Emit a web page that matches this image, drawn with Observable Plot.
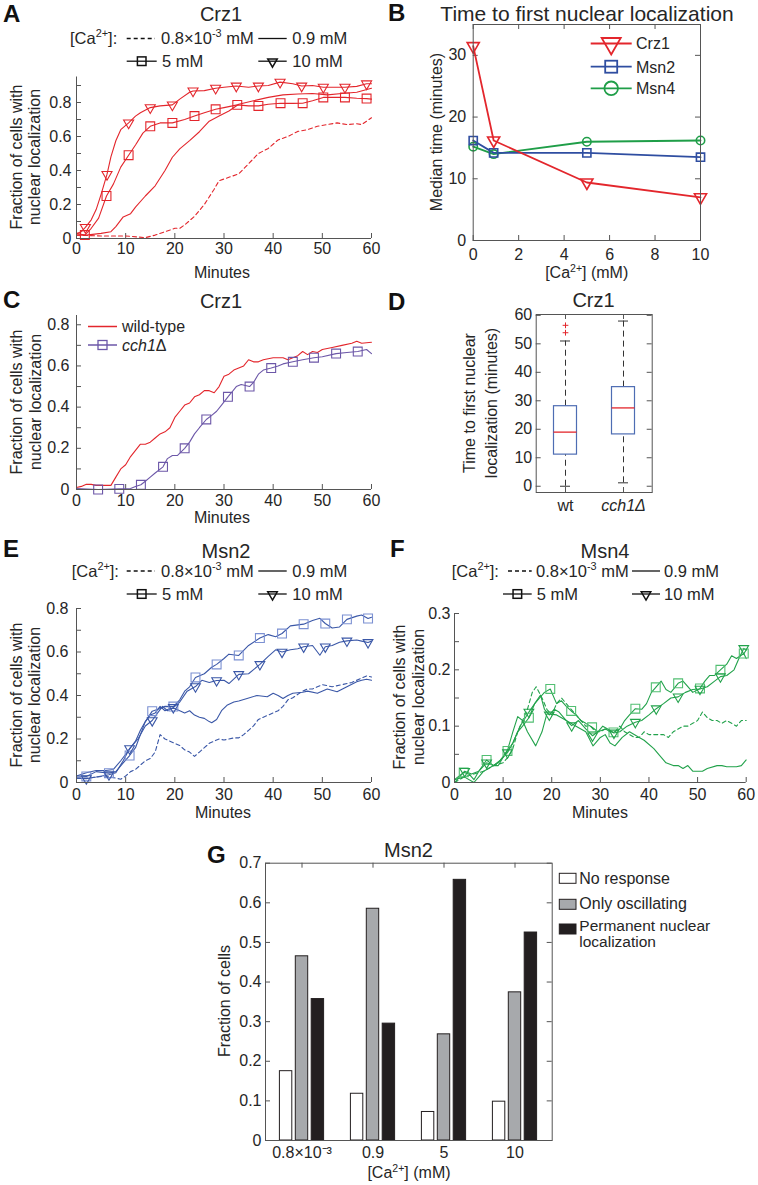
<!DOCTYPE html>
<html><head><meta charset="utf-8">
<script src="https://cdn.jsdelivr.net/npm/d3@7"></script>
<script src="https://cdn.jsdelivr.net/npm/@observablehq/plot@0.6"></script>
<style>
body{margin:0;background:#fff;}
#fig{position:relative;width:758px;height:1185px;overflow:hidden;background:#fff;font-family:"Liberation Sans",Arial,Helvetica,sans-serif;}
</style></head>
<body><div id="fig"></div>
<script>
// ---------------- DATA ----------------
// Panel A: Crz1, fraction with nuclear localization vs minutes
const tA_low = [0,5,10,14,16,18,20,21,22,24,26,28,29,31,33,35,37,39,41,43,45,47,49,51,53,55,57,58,60];
const vA_low = [0.02,0.015,0.015,0.005,0.02,0.04,0.06,0.06,0.08,0.13,0.2,0.29,0.34,0.36,0.38,0.44,0.5,0.53,0.58,0.6,0.63,0.64,0.66,0.67,0.68,0.67,0.675,0.67,0.71];
const tA_09 = [0,2,5,7,8,9.5,11,12,14,16,18,19.5,21,23,25,27,29,31,33,36,39,42,45,48,51,54,57,60];
const vA_09 = [0.02,0.02,0.03,0.04,0.07,0.127,0.146,0.185,0.25,0.31,0.4,0.478,0.527,0.576,0.628,0.69,0.72,0.75,0.79,0.81,0.83,0.845,0.85,0.853,0.845,0.853,0.86,0.884];
const tA_5 = [0,1.7,3,4.5,6.1,7.5,9,10.6,12,13.5,15,17,19.5,22,24,26,28.3,30,32.7,35,37,39,41.5,44,46,48,50.2,52,54.6,57,59,60];
const vA_5 = [0.03,0.02,0.06,0.12,0.25,0.32,0.42,0.49,0.55,0.62,0.66,0.68,0.68,0.7,0.72,0.74,0.76,0.77,0.786,0.78,0.78,0.79,0.796,0.795,0.796,0.81,0.83,0.83,0.83,0.825,0.823,0.82];
const tA_10 = [0,1,1.8,3,4,5,6.2,7,8,9,10.6,12,13,15,17,19.5,21,23,23.7,26,28.3,30,32.5,35,37,39,41.4,44,45.8,48,50.2,52,54.6,57,59,60];
const vA_10 = [0.03,0.04,0.065,0.11,0.17,0.26,0.377,0.48,0.575,0.64,0.68,0.72,0.74,0.77,0.78,0.786,0.82,0.86,0.868,0.87,0.884,0.89,0.897,0.89,0.897,0.9,0.92,0.91,0.897,0.9,0.89,0.89,0.89,0.895,0.91,0.91];
const mA_5t = [1.7,6.1,10.6,15,19.5,24,28.3,32.7,37,41.5,46,50.2,54.6,59];
const mA_5v = [0.02,0.25,0.49,0.66,0.68,0.72,0.76,0.786,0.78,0.796,0.796,0.83,0.83,0.823];
const mA_10t = [1.8,6.2,10.6,15,19.5,23.7,28.3,32.5,37,41.4,45.8,50.2,54.6,59];
const mA_10v = [0.065,0.377,0.68,0.77,0.786,0.868,0.884,0.897,0.897,0.92,0.897,0.89,0.89,0.91];

// Panel B: median time to first nuclear localization
const caB = [0.0008, 0.9, 5, 10];
const crz1B = [31.5, 16.2, 9.4, 7.0];
const msn2B = [16.2, 14.2, 14.2, 13.5];
const msn4B = [15.2, 14.0, 16.0, 16.2];

// Panel C: Crz1 wild-type vs cch1Δ
const tC_wt = [0,1,2,3,4,5,6,7,8,9,10,11,12,13,14,15,16,17,18,19,20,21,22,23,24,25,26,27,28,29,30,31,32,33,34,35,36,37,38,40,42,43,44,45,46,47,48,49,50,52,54,56,57,58,60];
const vC_wt = [0.01,0.015,0.025,0.025,0.02,0.02,0.02,0.02,0.06,0.1,0.12,0.16,0.19,0.22,0.22,0.23,0.25,0.27,0.28,0.3,0.35,0.38,0.41,0.42,0.45,0.46,0.48,0.48,0.47,0.5,0.55,0.56,0.58,0.59,0.6,0.63,0.62,0.62,0.63,0.64,0.64,0.63,0.64,0.65,0.67,0.655,0.67,0.665,0.68,0.69,0.7,0.71,0.72,0.71,0.715];
const tC_cch = [0,4.4,8.7,11,12,13.1,14,15,16,17.6,18.5,19.5,20.5,22,23,24,25,26.4,27.5,28.5,29.5,30.8,31.5,32.5,33.5,35.2,36,37,38,39.6,41,42,44,46,48.3,50,52.8,55,57.2,59,60];
const vC_cch = [0.005,0,0.003,0.005,0.015,0.023,0.04,0.06,0.08,0.11,0.15,0.165,0.165,0.2,0.23,0.27,0.3,0.34,0.36,0.38,0.41,0.45,0.47,0.5,0.51,0.5,0.52,0.56,0.58,0.59,0.6,0.61,0.62,0.63,0.64,0.645,0.66,0.665,0.67,0.68,0.66];
const mC_t = [4.4,8.7,13.1,17.6,22,26.4,30.8,35.2,39.6,44,48.3,52.8,57.2];
const mC_v = [0,0.003,0.023,0.11,0.2,0.34,0.45,0.5,0.59,0.62,0.64,0.66,0.67];

// Panel D: box plot statistics
const strainsD = ["wt", "cch1Δ"];
const q1D = [11.1, 18.2];
const medD = [19.0, 27.5];
const q3D = [28.1, 34.8];
const loD = [0, 1.2];
const hiD = [51.0, 58.0];
const outD = [53.9, 56.5];

// Panel E: Msn2
const tE_low = [0,2,4,6,8,9,10,11,12,13,14,15,16,17,18,19,20,21,22,23,24,25,26,27,28,29,30,31,32,33,34,35,36,37,38,40,41,42,43,44,46,47,48,50,52,54,56,58,59,60];
const vE_low = [0.02,0.02,0.025,0.03,0.02,0.015,0.03,0.05,0.06,0.08,0.1,0.11,0.14,0.22,0.2,0.19,0.18,0.17,0.15,0.14,0.12,0.14,0.16,0.18,0.19,0.2,0.195,0.2,0.205,0.205,0.22,0.24,0.26,0.29,0.3,0.32,0.33,0.35,0.38,0.39,0.42,0.43,0.43,0.45,0.44,0.45,0.46,0.48,0.49,0.485];
const tE_09 = [0,2,4,6,7.5,9,10,11,12,13,14,15,16,17,18,19,20,21,22,23,24,25,26,27,27.5,28.5,29.5,30.6,32,33,34.7,36.7,38.8,40,41,42,43,44,46,47,49,51,53,55,57,58,59,60];
const vE_09 = [0.03,0.045,0.055,0.055,0.06,0.1,0.13,0.16,0.19,0.24,0.28,0.31,0.32,0.35,0.33,0.34,0.34,0.33,0.32,0.33,0.31,0.3,0.295,0.28,0.275,0.29,0.33,0.355,0.37,0.375,0.386,0.4,0.394,0.41,0.4,0.386,0.4,0.41,0.415,0.42,0.41,0.43,0.417,0.44,0.463,0.47,0.475,0.47];
const tE_5 = [0,2,4,6.6,8,9.5,10.8,12,13,14,15.4,17,18,19.7,21,22,23,24.2,26,27.5,28.5,30,31,33,35,37.3,39,40.5,41.8,43.5,46.2,48,49.5,50.6,52,53.5,55,57,58,59.3,60];
const vE_5 = [0.03,0.028,0.05,0.043,0.05,0.09,0.124,0.16,0.22,0.28,0.328,0.34,0.35,0.349,0.38,0.42,0.44,0.483,0.5,0.53,0.543,0.57,0.59,0.584,0.63,0.664,0.68,0.67,0.685,0.72,0.728,0.745,0.755,0.731,0.71,0.715,0.75,0.765,0.77,0.754,0.76];
const tE_10 = [0,2,4,6.6,8,9.5,10.8,12.5,14,15.4,16.5,17.5,18.5,19.7,21,22.5,24.2,25.5,27,28.5,30,31,33,35,37.3,39,40.5,41.8,43.5,45,46.2,48,49.5,50.6,52,53.5,55,57,58,59.3,60];
const vE_10 = [0.02,0.018,0.025,0.036,0.045,0.1,0.156,0.2,0.26,0.285,0.32,0.35,0.33,0.345,0.37,0.42,0.441,0.47,0.46,0.469,0.47,0.455,0.497,0.5,0.543,0.58,0.61,0.6,0.61,0.615,0.624,0.63,0.585,0.624,0.63,0.645,0.651,0.655,0.65,0.644,0.65];
const mE_t = [2,6.6,10.8,15.4,19.7,24.2,28.5,33,37.3,41.8,46.2,50.6,55,59.3];
const mE_5v = [0.028,0.043,0.124,0.328,0.349,0.483,0.543,0.584,0.664,0.685,0.728,0.731,0.75,0.754];
const mE_10v = [0.018,0.036,0.156,0.285,0.345,0.441,0.469,0.497,0.543,0.6,0.624,0.624,0.651,0.644];

// Panel F: Msn4
const tF_low = [0,2,4,6,8,10,11,12,13,14,15,16,16.8,18,19,20,21,22,23,24,25,26,27,28,29,30,31,32,33,34,35,36,37,38,39,40,41,42,43,44,45,46,47,48,49,50,51,52,53,54,55,56,57,58,59,60];
const vF_low = [0,0.01,0.015,0.02,0.03,0.035,0.045,0.06,0.09,0.11,0.13,0.16,0.17,0.15,0.13,0.12,0.14,0.15,0.14,0.13,0.12,0.11,0.1,0.1,0.09,0.09,0.095,0.09,0.09,0.1,0.09,0.085,0.08,0.08,0.09,0.085,0.085,0.085,0.085,0.08,0.09,0.095,0.1,0.1,0.105,0.11,0.125,0.115,0.11,0.11,0.105,0.11,0.105,0.1,0.11,0.11];
const tF_09 = [0,2,4,5,6,7,8,9,10,11,12,13,14,15,16.7,18,19,21,23,25,27,28.5,30,31,32,33,34.5,36,38,39,41,42,43.5,45,46,47,48,49,51,52,54,55,56,58,59,60];
const vF_09 = [0.005,0.01,0,0.01,0.02,0.025,0.03,0.03,0.045,0.06,0.09,0.117,0.11,0.09,0.065,0.09,0.122,0.12,0.11,0.1,0.09,0.065,0.08,0.085,0.07,0.065,0.08,0.09,0.08,0.075,0.06,0.05,0.035,0.03,0.03,0.025,0.03,0.02,0.02,0.025,0.03,0.03,0.028,0.028,0.03,0.04];
const tF_5 = [0,1.9,3,4,5,6.6,8,9,10.9,12,13,14,15.3,16.5,17.5,18.5,19.7,21,22,23,24,25,26,27,28.3,29.5,30.5,31.5,32.7,34,35,36,37.2,38.5,39.5,40.5,41.4,42.5,43.5,44.5,46,47,48,49,50.5,51.5,52.5,53.5,54.7,56,57,58,59.5,60];
const vF_5 = [0.005,0.018,0.015,0.005,0.02,0.04,0.03,0.035,0.056,0.07,0.09,0.1,0.115,0.14,0.15,0.16,0.166,0.14,0.145,0.135,0.127,0.12,0.11,0.105,0.098,0.09,0.1,0.095,0.089,0.095,0.11,0.12,0.131,0.13,0.14,0.16,0.169,0.18,0.165,0.16,0.176,0.18,0.17,0.16,0.167,0.18,0.19,0.19,0.2,0.21,0.225,0.22,0.229,0.22];
const tF_10 = [0,2.1,3.5,5,6.6,8,9.5,10.9,12,13.5,15.3,16.5,17.7,18.5,19.5,20.5,21.5,23,24.1,25.5,27,28.4,29.5,31,32.8,34,35.5,37.2,38.5,40,41.5,43,44.5,46,47.5,49,50.5,52,53.5,54.7,56,57.5,58.5,59.5,60];
const vF_10 = [0,0.02,0.015,0.02,0.035,0.03,0.04,0.053,0.07,0.1,0.125,0.14,0.155,0.13,0.12,0.13,0.125,0.11,0.101,0.11,0.095,0.083,0.09,0.095,0.088,0.09,0.1,0.107,0.11,0.12,0.131,0.14,0.15,0.152,0.16,0.165,0.166,0.17,0.18,0.188,0.19,0.2,0.22,0.238,0.235];
const mF_5t = [1.9,6.6,10.9,15.3,19.7,24,28.3,32.7,37.2,41.4,46,50.5,54.7,59.5];
const mF_5v = [0.018,0.04,0.056,0.115,0.166,0.127,0.098,0.089,0.131,0.169,0.176,0.167,0.2,0.229];
const mF_10t = [2.1,6.6,10.9,15.3,19.5,24.1,28.4,32.8,37.2,41.5,46,50.5,54.7,59.5];
const mF_10v = [0.02,0.035,0.053,0.125,0.12,0.101,0.083,0.088,0.107,0.131,0.152,0.166,0.188,0.238];

// Panel G: Msn2 response classes
const caG = ["0.8×10⁻³", "0.9", "5", "10"];
const noResp = [0.175, 0.118, 0.072, 0.098];
const onlyOsc = [0.465, 0.585, 0.268, 0.374];
const permNuc = [0.357, 0.295, 0.658, 0.525];

// Tick values
const ticksMin = [0,10,20,30,40,50,60];
const ticksFrac8 = [0,0.2,0.4,0.6,0.8];
const ticksFrac8m = [0,0.1,0.2,0.3,0.4,0.5,0.6,0.7,0.8,0.9];
const ticksFrac3 = [0,0.1,0.2,0.3];
const ticksFrac3m = [0,0.05,0.1,0.15,0.2,0.25,0.3];
const ticksCaB = [0,2,4,6,8,10];
const ticksMedB = [0,10,20,30];
const ticksD = [0,10,20,30,40,50,60];
const ticksG = [0,0.1,0.2,0.3,0.4,0.5,0.6,0.7];

// ---------------- STYLE ----------------
const FONT = '"Liberation Sans", Arial, Helvetica, sans-serif';
const AX = "#555555", TXT = "#262626";
const RED = "#e3262c", BLUE = "#3a57a7", BLUE_L = "#7b90d2", GREEN = "#22a24b", GREEN_L = "#52bf72", PURPLE = "#6c57a8";
const BLUE_B = "#2f4ea1", GREEN_B = "#1f9e48", BOXC = "#4e6db3", GRAY = "#a7a9ac", BLACK = "#231f20";
const fig = document.getElementById("fig");

const triDown = {draw(ctx, size) {
  const R = Math.sqrt(size / Math.PI);
  ctx.moveTo(0, R); ctx.lineTo(R * 0.866, -R / 2); ctx.lineTo(-R * 0.866, -R / 2); ctx.closePath();
}};
const ser = (t, v) => t.map((x, i) => ({x, y: v[i]}));

function panel(c) {
  const ml = c.fx0 - c.L, mr = c.L + c.W - c.fx1, mt = c.fy0 - c.T, mb = c.T + c.H - c.fy1;
  const fw = c.fx1 - c.fx0, fh = c.fy1 - c.fy0, tl = 5;
  const marks = [];
  if (c.xTickMarks) {
    marks.push(Plot.ruleX(c.xTickMarks, {x: d => d, insetTop: fh - tl, stroke: AX}));
    if (c.box) marks.push(Plot.ruleX(c.xTickMarks, {x: d => d, insetBottom: fh - tl, stroke: AX}));
  }
  if (c.yTickMarks) {
    marks.push(Plot.ruleY(c.yTickMarks, {y: d => d, insetRight: fw - tl, stroke: AX}));
    if (c.box) marks.push(Plot.ruleY(c.yTickMarks, {y: d => d, insetLeft: fw - tl, stroke: AX}));
  }
  marks.push(...c.marks);
  if (c.box) marks.push(Plot.frame({stroke: AX, strokeWidth: 1}));
  else {
    marks.push(Plot.ruleX([c.x.domain[0]], {stroke: AX}));
    marks.push(Plot.ruleY([c.y.domain[0]], {stroke: AX}));
  }
  const svg = Plot.plot({
    width: c.W, height: c.H, marginLeft: ml, marginRight: mr, marginTop: mt, marginBottom: mb,
    x: c.x, y: c.y,
    style: {fontSize: "16px", fontFamily: FONT, color: TXT, background: "transparent", overflow: "visible"},
    marks
  });
  svg.style.position = "absolute"; svg.style.left = c.L + "px"; svg.style.top = c.T + "px";
  fig.appendChild(svg);
}
const lin = (t, v, color, extra = {}) => Plot.line(ser(t, v), {x: "x", y: "y", stroke: color, strokeWidth: 1.1, ...extra});
const dashed = {strokeDasharray: "4,3"};
const mk = (t, v, color, sym, r) => Plot.dot(ser(t, v), {x: "x", y: "y", symbol: sym, r, stroke: color, fill: "none", strokeWidth: 1.1});
const fmt = d => String(d);

// ---------- A ----------
panel({L: 0, T: 0, W: 380, H: 290, fx0: 76, fx1: 371, fy0: 76.5, fy1: 238,
  x: {domain: [0, 60], ticks: ticksMin, tickSize: 0, tickPadding: 4, label: null, tickFormat: fmt},
  y: {domain: [0, 0.95], ticks: ticksFrac8, tickSize: 0, tickPadding: 5, label: null, tickFormat: fmt},
  xTickMarks: ticksMin, yTickMarks: ticksFrac8m,
  marks: [
    lin(tA_low, vA_low, RED, dashed), lin(tA_09, vA_09, RED), lin(tA_5, vA_5, RED), lin(tA_10, vA_10, RED),
    mk(mA_5t, mA_5v, RED, "square", 5), mk(mA_10t, mA_10v, RED, triDown, 5.8)
  ]});

// ---------- B ----------
panel({L: 380, T: 0, W: 378, H: 290, fx0: 472.7, fx1: 700, fy0: 24, fy1: 240, box: true,
  x: {domain: [0, 10], ticks: ticksCaB, tickSize: 0, tickPadding: 8, label: null, tickFormat: fmt},
  y: {domain: [0, 35], ticks: ticksMedB, tickSize: 0, tickPadding: 7, label: null, tickFormat: fmt},
  xTickMarks: ticksCaB, yTickMarks: ticksMedB,
  marks: [
    Plot.line(ser(caB, msn4B), {x: "x", y: "y", stroke: GREEN_B, strokeWidth: 1.8}),
    Plot.line(ser(caB, msn2B), {x: "x", y: "y", stroke: BLUE_B, strokeWidth: 1.8}),
    Plot.line(ser(caB, crz1B), {x: "x", y: "y", stroke: RED, strokeWidth: 1.8}),
    Plot.dot(ser(caB, msn4B), {x: "x", y: "y", symbol: "circle", r: 4.2, stroke: GREEN_B, fill: "none", strokeWidth: 1.6}),
    Plot.dot(ser(caB, msn2B), {x: "x", y: "y", symbol: "square", r: 4.6, stroke: BLUE_B, fill: "none", strokeWidth: 1.6}),
    Plot.dot(ser(caB, crz1B), {x: "x", y: "y", symbol: triDown, r: 7, stroke: RED, fill: "none", strokeWidth: 1.6})
  ]});

// ---------- C ----------
panel({L: 0, T: 290, W: 380, H: 240, fx0: 76, fx1: 371, fy0: 315, fy1: 489,
  x: {domain: [0, 60], ticks: ticksMin, tickSize: 0, tickPadding: 5, label: null, tickFormat: fmt},
  y: {domain: [0, 0.845], ticks: ticksFrac8, tickSize: 0, tickPadding: 7, label: null, tickFormat: fmt},
  xTickMarks: ticksMin, yTickMarks: ticksFrac8m.slice(0, 9),
  marks: [
    lin(tC_wt, vC_wt, RED), lin(tC_cch, vC_cch, PURPLE),
    mk(mC_t, mC_v, PURPLE, "square", 5)
  ]});

// ---------- D ----------
const dRows = strainsD.map((s, i) => ({s, q1: q1D[i], med: medD[i], q3: q3D[i], lo: loD[i], hi: hiD[i]}));
panel({L: 380, T: 290, W: 378, H: 240, fx0: 535.7, fx1: 651.7, fy0: 314, fy1: 492, box: true,
  x: {type: "band", domain: strainsD, padding: 0, axis: null},
  y: {domain: [-2.2, 60.3], ticks: ticksD, tickSize: 0, tickPadding: 4, label: null, tickFormat: fmt},
  xTickMarks: strainsD, yTickMarks: ticksD,
  marks: [
    Plot.ruleX(dRows, {x: "s", y1: "q3", y2: "hi", stroke: "#333", strokeDasharray: "6,4"}),
    Plot.ruleX(dRows, {x: "s", y1: "lo", y2: "q1", stroke: "#333", strokeDasharray: "6,4"}),
    Plot.tickY(dRows, {x: "s", y: "hi", insetLeft: 24, insetRight: 24, stroke: "#333"}),
    Plot.tickY(dRows, {x: "s", y: "lo", insetLeft: 24, insetRight: 24, stroke: "#333"}),
    Plot.barY(dRows, {x: "s", y1: "q1", y2: "q3", insetLeft: 17.5, insetRight: 17.5, fill: "white", stroke: BOXC, strokeWidth: 1.2}),
    Plot.tickY(dRows, {x: "s", y: "med", insetLeft: 17.5, insetRight: 17.5, stroke: RED, strokeWidth: 1.3}),
    Plot.dot(outD, {x: () => strainsD[0], y: d => d, symbol: "plus", r: 2, stroke: RED, strokeWidth: 1}),
    Plot.text([strainsD[0]], {x: d => d, text: d => d, frameAnchor: "bottom", dy: 18, fontSize: 16, fill: TXT}),
    Plot.text([strainsD[1]], {x: d => d, text: d => d, frameAnchor: "bottom", dy: 18, fontSize: 16, fill: TXT, fontStyle: "italic"})
  ]});

// ---------- E ----------
panel({L: 0, T: 530, W: 380, H: 270, fx0: 76, fx1: 371, fy0: 608, fy1: 782,
  x: {domain: [0, 60], ticks: ticksMin, tickSize: 0, tickPadding: 6, label: null, tickFormat: fmt},
  y: {domain: [0, 0.8], ticks: ticksFrac8, tickSize: 0, tickPadding: 8, label: null, tickFormat: fmt},
  xTickMarks: ticksMin, yTickMarks: ticksFrac8m.slice(0, 9),
  marks: [
    lin(tE_low, vE_low, BLUE, dashed), lin(tE_09, vE_09, BLUE), lin(tE_5, vE_5, BLUE), lin(tE_10, vE_10, BLUE),
    mk(mE_t, mE_5v, BLUE_L, "square", 5), mk(mE_t, mE_10v, BLUE, triDown, 5.6)
  ]});

// ---------- F ----------
panel({L: 380, T: 530, W: 378, H: 270, fx0: 454, fx1: 745.7, fy0: 613, fy1: 782,
  x: {domain: [0, 60], ticks: ticksMin, tickSize: 0, tickPadding: 6, label: null, tickFormat: fmt},
  y: {domain: [0, 0.3], ticks: ticksFrac3, tickSize: 0, tickPadding: 4, label: null, tickFormat: fmt},
  xTickMarks: ticksMin, yTickMarks: ticksFrac3m,
  marks: [
    lin(tF_low, vF_low, GREEN, dashed), lin(tF_09, vF_09, GREEN), lin(tF_5, vF_5, GREEN), lin(tF_10, vF_10, GREEN),
    mk(mF_5t, mF_5v, GREEN_L, "square", 5), mk(mF_10t, mF_10v, GREEN, triDown, 5.6)
  ]});

// ---------- G ----------
const gBar = (vals, fill, dx) => Plot.barY(caG.map((c, i) => ({c, v: vals[i]})),
  {x: "c", y: "v", fill, stroke: BLACK, strokeWidth: 1, insetLeft: 29.3, insetRight: 29.3, dx});
panel({L: 180, T: 800, W: 578, H: 385, fx0: 265, fx1: 551.7, fy0: 862.7, fy1: 1140, box: true,
  x: {type: "band", domain: caG, padding: 0, tickSize: 0, tickPadding: 6, label: null},
  y: {domain: [0, 0.7], ticks: ticksG, tickSize: 0, tickPadding: 4, label: null, tickFormat: fmt},
  xTickMarks: caG, yTickMarks: ticksG,
  marks: [gBar(noResp, "white", -15.9), gBar(onlyOsc, GRAY, 0), gBar(permNuc, BLACK, 15.9)]});

// ---------------- ANNOTATIONS (titles, labels, legends) ----------------
const ov = d3.select(fig).append("svg").attr("width", 758).attr("height", 1185)
  .style("position", "absolute").style("left", "0px").style("top", "0px")
  .style("font-family", FONT).attr("fill", TXT);
function T(x, y, segs, o = {}) {
  const size = o.size || 16;
  const t = ov.append("text").attr("x", x).attr("y", y).attr("font-size", size)
    .attr("text-anchor", o.anchor || "start");
  if (o.weight) t.attr("font-weight", o.weight).attr("fill", "#111");
  if (o.rot) t.attr("transform", `rotate(-90 ${x} ${y})`);
  if (typeof segs === "string") segs = [segs];
  let shift = 0;
  for (const s of segs) {
    const sp = t.append("tspan");
    if (typeof s === "string") { sp.text(s); if (shift) { sp.attr("dy", shift); shift = 0; } }
    else if (s.sup) { sp.text(s.sup).attr("font-size", size * 0.66).attr("dy", -size * 0.4); shift = size * 0.4; }
    else if (s.it) { sp.text(s.it).attr("font-style", "italic"); if (shift) { sp.attr("dy", shift); shift = 0; } }
  }
  return t;
}
// panel letters
[["A", 3, 22], ["B", 388, 21], ["C", 3, 308], ["D", 388, 310], ["E", 3, 557], ["F", 390, 557], ["G", 207, 863]]
  .forEach(([l, x, y]) => T(x, y, l, {size: 24, weight: "bold"}));
// titles
T(221, 21, "Crz1", {size: 20, anchor: "middle"});
T(587, 21, "Time to first nuclear localization", {size: 21, anchor: "middle"});
T(221, 308, "Crz1", {size: 20, anchor: "middle"});
T(593.5, 307, "Crz1", {size: 20, anchor: "middle"});
T(226, 558, "Msn2", {size: 20, anchor: "middle"});
T(605, 558, "Msn4", {size: 20, anchor: "middle"});
T(408.5, 857, "Msn2", {size: 20, anchor: "middle"});
// axis labels
T(222, 278, "Minutes", {anchor: "middle"});
T(222, 523, "Minutes", {anchor: "middle"});
T(223, 818, "Minutes", {anchor: "middle"});
T(600, 818, "Minutes", {anchor: "middle"});
T(586.7, 278, ["[Ca", {sup: "2+"}, "] (mM)"], {anchor: "middle"});
T(409, 1178, ["[Ca", {sup: "2+"}, "] (mM)"], {anchor: "middle"});
[[22, 40, 157], [22, 41, 402], [22, 40, 695], [405, 424, 697]].forEach(([x1, x2, y]) => {
  T(x1, y, "Fraction of cells with", {anchor: "middle", rot: true});
  T(x2, y, "nuclear localization", {anchor: "middle", rot: true});
});
T(441.7, 132, "Median time (minutes)", {anchor: "middle", rot: true});
T(475, 403, "Time to first nuclear", {anchor: "middle", rot: true});
T(496.7, 403, "localization (minutes)", {anchor: "middle", rot: true});
T(230, 1001, "Fraction of cells", {anchor: "middle", rot: true});

// [Ca2+] legends for A, E, F
function sym(x, y, kind, R, color, sw) {
  if (kind === "tri") {
    ov.append("path").attr("d", `M${x},${y + R}L${x + R * 0.866},${y - R / 2}L${x - R * 0.866},${y - R / 2}Z`)
      .attr("fill", "none").attr("stroke", color).attr("stroke-width", sw);
  } else if (kind === "sq") {
    ov.append("rect").attr("x", x - R).attr("y", y - R).attr("width", 2 * R).attr("height", 2 * R)
      .attr("fill", "none").attr("stroke", color).attr("stroke-width", sw);
  } else {
    ov.append("circle").attr("cx", x).attr("cy", y).attr("r", R)
      .attr("fill", "none").attr("stroke", color).attr("stroke-width", sw);
  }
}
function seg(x1, x2, y, color, sw, dash) {
  const l = ov.append("line").attr("x1", x1).attr("x2", x2).attr("y1", y).attr("y2", y)
    .attr("stroke", color).attr("stroke-width", sw);
  if (dash) l.attr("stroke-dasharray", dash);
}
function caLegend(o) {
  const {b1, b2} = o, m1 = b1 - 5.5, m2 = b2 - 5.5;
  T(o.x0, b1, ["[Ca", {sup: "2+"}, "]:"], {size: 16.5});
  seg(o.d1, o.d2, m1, "#111", 1.3, "4,3");
  T(o.t1, b1, ["0.8×10", {sup: "-3"}, " mM"], {size: 16.5});
  seg(o.s1, o.s2, m1, "#111", 1.3);
  T(o.t2, b1, "0.9 mM", {size: 16.5});
  seg(o.q1, o.q2, m2, "#111", 1.3); sym((o.q1 + o.q2) / 2, m2, "sq", 4.3, "#111", 1.5);
  T(o.t3, b2, "5 mM", {size: 16.5});
  seg(o.s1, o.s2, m2, "#111", 1.3); sym((o.s1 + o.s2) / 2, m2 + 0.5, "tri", 5.5, "#111", 1.5);
  T(o.t2, b2, "10 mM", {size: 16.5});
}
caLegend({x0: 70, b1: 44, b2: 66.7, d1: 126.7, d2: 155, t1: 161, s1: 258.3, s2: 286.7, t2: 292.3, q1: 126.7, q2: 156.7, t3: 162});
caLegend({x0: 71.7, b1: 576.5, b2: 599.5, d1: 126.7, d2: 155, t1: 161, s1: 258.3, s2: 286.7, t2: 292.3, q1: 126.7, q2: 156.7, t3: 162});
caLegend({x0: 451.7, b1: 576.5, b2: 599.5, d1: 508, d2: 531.7, t1: 536, s1: 632, s2: 660, t2: 664, q1: 503, q2: 531.7, t3: 536.7});

// B legend
[["Crz1", RED, "tri", 43.5, 11], ["Msn2", BLUE_B, "sq", 66.7, 6], ["Msn4", GREEN_B, "circ", 88.3, 6.8]]
  .forEach(([n, c, k, y, R]) => {
    seg(590.7, 631.7, y, c, 1.8);
    sym(611.2, y, k, R, c, 1.8);
    T(636, y + 5.8, n);
  });

// C legend
seg(88, 117, 326.5, RED, 1.5);
T(122, 331.5, "wild-type");
seg(88, 117, 345, PURPLE, 1.5); sym(102.5, 345, "sq", 4.5, PURPLE, 1.3);
T(122, 350.5, [{it: "cch1"}, "Δ"]);

// G legend
[["No response", "white", 873.3, 884], ["Only oscillating", GRAY, 899.3, 909.3], ["Permanent nuclear", BLACK, 924, 931]]
  .forEach(([n, f, y, b]) => {
    ov.append("rect").attr("x", 559.3).attr("y", y).attr("width", 16.7).attr("height", 10)
      .attr("fill", f).attr("stroke", BLACK).attr("stroke-width", 1);
    T(579.3, b, n, {size: n.startsWith("Perm") ? 15.5 : 16});
  });
T(579.3, 947, "localization", {size: 15.5});
</script>
</body></html>
